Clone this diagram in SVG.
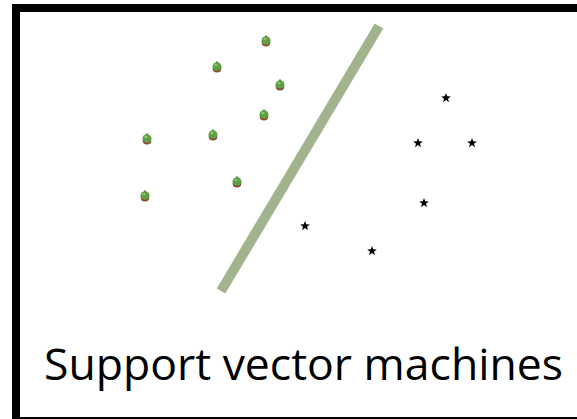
<svg xmlns="http://www.w3.org/2000/svg" width="577" height="419" viewBox="0 0 577 419">
<defs>
<style>
.pep-b{fill:#8a4a30}
.pep{fill:#5f9f45}
.pep-h{fill:#8fc86a}
.star{fill:#000}
.lbl{font-family:"Open Sans","Noto Sans","Liberation Sans",sans-serif;font-size:44px;fill:#000}
</style>
<g id="pepper">
<ellipse class="pep-b" cx="0" cy="1.8" rx="4.3" ry="3.6"/>
<ellipse class="pep" cx="0" cy="-0.5" rx="4.5" ry="4.3"/>
<ellipse class="pep-h" cx="-1" cy="-2" rx="1.5" ry="1.3"/>
<rect x="-0.6" y="-5.8" width="1.2" height="2" fill="#4a7a30"/>
</g>
<polygon id="star" class="star" points="0,-5 1.25,-1.7 4.8,-1.6 2,0.7 3,4.2 0,2.1 -3,4.2 -2,0.7 -4.8,-1.6 -1.25,-1.7"/>
</defs>
<rect width="577" height="419" fill="#fff"/>
<g id="frame">
<rect x="16" y="8" width="580" height="413" fill="none" stroke="#000" stroke-width="8"/>
</g>
<g id="connectors">
<line id="separator" x1="379" y1="26" x2="221" y2="291" stroke="#a2b48e" stroke-width="10"/>
</g>
<g id="class-a">
<use href="#pepper" x="266" y="41"/>
<use href="#pepper" x="217" y="67"/>
<use href="#pepper" x="280" y="85"/>
<use href="#pepper" x="264" y="115"/>
<use href="#pepper" x="213" y="135"/>
<use href="#pepper" x="147" y="139"/>
<use href="#pepper" x="237" y="182"/>
<use href="#pepper" x="145" y="196"/>
</g>
<g id="class-b">
<use href="#star" x="446" y="98"/>
<use href="#star" x="418" y="143"/>
<use href="#star" x="472" y="143"/>
<use href="#star" x="424" y="203"/>
<use href="#star" x="305" y="226"/>
<use href="#star" x="372" y="251"/>
</g>
<g id="title">
<text class="lbl" x="44" y="380" textLength="519" lengthAdjust="spacingAndGlyphs">Support vector machines</text>
</g>
</svg>
